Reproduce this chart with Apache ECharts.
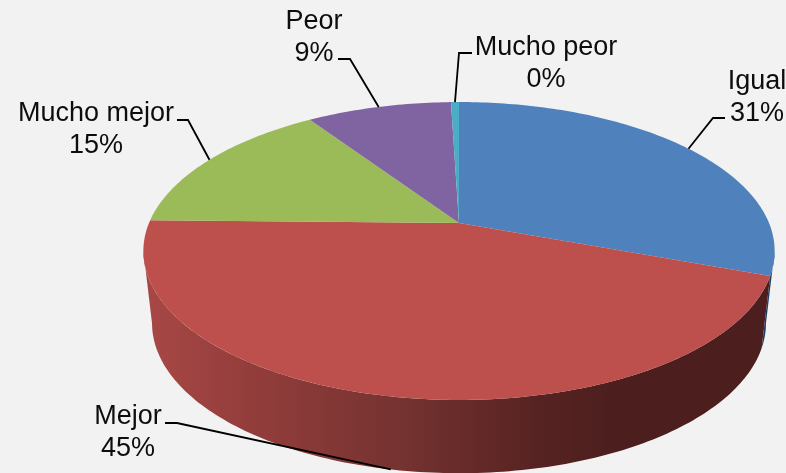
<!DOCTYPE html>
<html>
<head>
<meta charset="utf-8">
<style>html,body{margin:0;padding:0;background:#f2f2f2}#chart{width:786px;height:473px}</style>
<script src="https://cdn.jsdelivr.net/npm/echarts@6/dist/echarts.min.js"></script>
</head>
<body>
<div id="chart"></div>
<script>
var categories = ['Igual', 'Mejor', 'Mucho mejor', 'Peor', 'Mucho peor'];
var values = [30.6, 44.7, 15.3, 8.9, 0.49];
var colors = ['#4f81bd', '#bd4f4c', '#9bbb59', '#8064a2', '#4bacc6'];
// where each text sits and the elbow of its leader line
var labelPos = [[757, 98], [128, 433], [96, 130], [314, 38], [546, 64]];
var elbowFrom = [[725, 118], [165, 423], [177, 120], [338, 59], [472, 53]];
var elbowTo = [[713, 118], [177, 423], [188, 120], [350, 59], [459, 53]];

// perspective disc: top face and base share the same tilt
var tilt = 0.188;
var topFace = {cx: 459, cy: 223, a: 310, b: 143.7};
var baseFace = {cx: 459, cy: 295, a: 301.5, b: 144.7};
var edge = Math.acos(-tilt) * 180 / Math.PI; // silhouette angle of the disc

var total = values.reduce(function (s, v) { return s + v; }, 0);
var starts = [];
values.reduce(function (s, v, i) { starts[i] = s; return s + v; }, 0);

function deg(v) { return v / total * 360; }

function project(face, angle) {
	var t = angle * Math.PI / 180;
	var x = Math.sin(t), y = Math.cos(t), w = 1 + tilt * y;
	return [face.cx + face.a * x / w, face.cy - face.b * y / w];
}

function arc(face, from, to) {
	var pts = [], n = Math.max(2, Math.ceil(Math.abs(to - from)));
	for (var i = 0; i <= n; i++) {
		pts.push(project(face, from + (to - from) * i / n));
	}
	return pts;
}

var wallFill = {
	0: '#1e3f68',
	1: new echarts.graphic.LinearGradient(143, 0, 775, 0, [
		{offset: 0, color: '#a84846'},
		{offset: 0.17, color: '#933d3b'},
		{offset: 0.4, color: '#763331'},
		{offset: 0.62, color: '#572322'},
		{offset: 0.74, color: '#4c1f1e'},
		{offset: 1, color: '#4c1f1e'}
	], true)
};

function renderWall(params, api) {
	var i = params.dataIndex;
	var from = Math.max(deg(starts[i]), edge);
	var to = Math.min(deg(starts[i] + values[i]), 360 - edge);
	if (to <= from || !wallFill[i]) return;
	var pts = arc(topFace, from, to).concat(arc(baseFace, to, from));
	return {type: 'polygon', shape: {points: pts}, style: {fill: wallFill[i]}};
}

function renderTop(params, api) {
	var i = params.dataIndex;
	var pts = [[topFace.cx, topFace.cy]].concat(arc(topFace, deg(starts[i]), deg(starts[i] + values[i])));
	return {type: 'polygon', shape: {points: pts}, style: {fill: colors[i]}};
}

function renderLabel(params, api) {
	var i = params.dataIndex;
	var mid = deg(starts[i] + values[i] / 2);
	var front = mid > edge && mid < 360 - edge;
	var end = project(front ? baseFace : topFace, mid);
	return {
		type: 'group',
		children: [{
			type: 'polyline',
			shape: {points: [elbowFrom[i], elbowTo[i], end]},
			style: {fill: null, stroke: '#000', lineWidth: 1.8}
		}, {
			type: 'text',
			style: {
				x: labelPos[i][0],
				y: labelPos[i][1],
				text: categories[i] + '\n' + Math.round(values[i] / total * 100) + '%',
				font: '27px "Liberation Sans"',
				lineHeight: 32,
				fill: '#0d0d0d',
				align: 'center',
				verticalAlign: 'middle'
			}
		}]
	};
}

var myChart = echarts.init(document.getElementById('chart'));
myChart.setOption({
	backgroundColor: '#f2f2f2',
	animation: false,
	series: [
		{type: 'custom', coordinateSystem: 'none', silent: true, z: 1, data: values, renderItem: renderWall},
		{type: 'custom', coordinateSystem: 'none', silent: true, z: 2, data: values, renderItem: renderTop},
		{type: 'custom', coordinateSystem: 'none', silent: true, z: 3, data: values, renderItem: renderLabel}
	]
});
</script>
</body>
</html>
